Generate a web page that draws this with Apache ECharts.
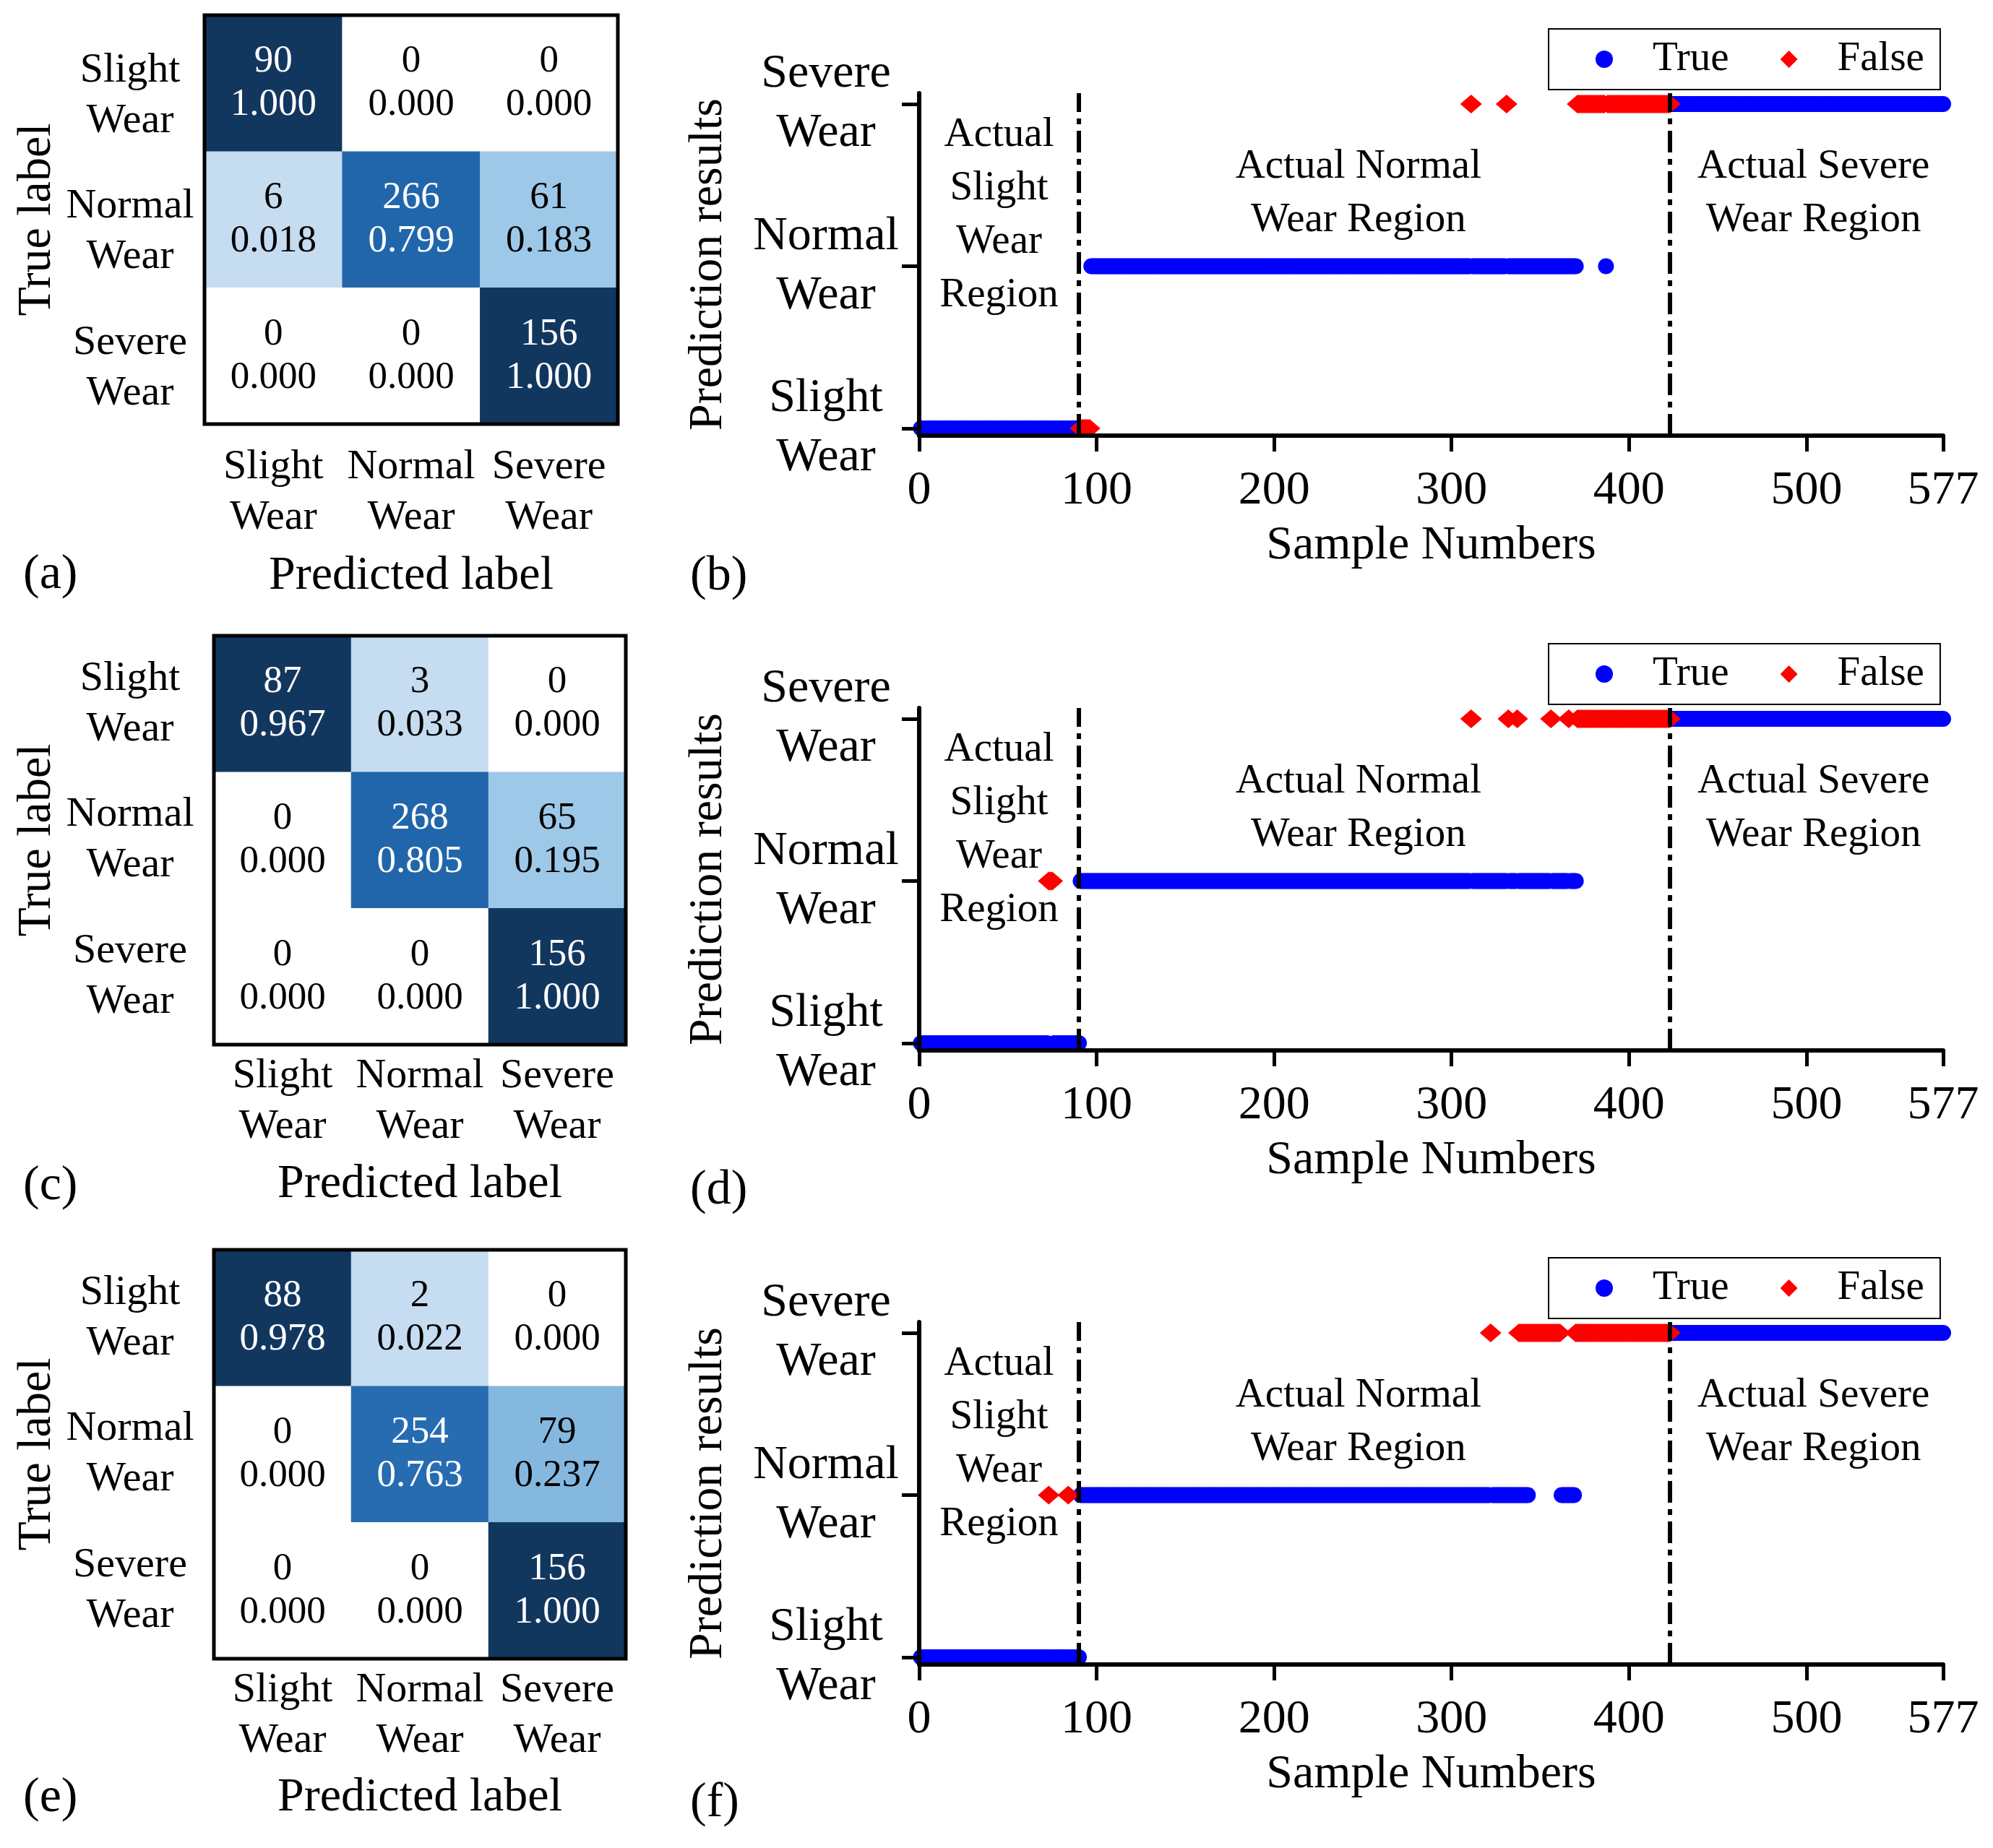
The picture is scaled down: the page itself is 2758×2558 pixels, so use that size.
<!DOCTYPE html>
<html>
<head>
<meta charset="utf-8">
<script src="https://cdn.jsdelivr.net/npm/echarts@6/dist/echarts.min.js"></script>
<style>
html,body{margin:0;padding:0;background:#fff;}
#chart{width:2758px;height:2558px;}
</style>
</head>
<body>
<div id="chart"></div>
<script>
// ---------------- DATA ----------------
const classLabels = ['Slight\nWear', 'Normal\nWear', 'Severe\nWear'];
const sampleTicks = [0, 100, 200, 300, 400, 500, 577];
const classTicks = [0, 1, 2];
const regionBounds = [90, 423];
const panelLetters = ['(a)', '(b)', '(c)', '(d)', '(e)', '(f)'];

// confusion matrices (rows = true label, cols = predicted label)
const cmCountsA = [[90, 0, 0], [6, 266, 61], [0, 0, 156]];
const cmRatiosA = [[1.000, 0.000, 0.000], [0.018, 0.799, 0.183], [0.000, 0.000, 1.000]];
const cmCountsC = [[87, 3, 0], [0, 268, 65], [0, 0, 156]];
const cmRatiosC = [[0.967, 0.033, 0.000], [0.000, 0.805, 0.195], [0.000, 0.000, 1.000]];
const cmCountsE = [[88, 2, 0], [0, 254, 79], [0, 0, 156]];
const cmRatiosE = [[0.978, 0.022, 0.000], [0.000, 0.763, 0.237], [0.000, 0.000, 1.000]];

// prediction results as runs of samples: [firstSample, lastSample, predictedClass]
const trueRunsB  = [[1, 90, 0], [97, 310, 1], [312, 330, 1], [332, 370, 1], [387, 387, 1], [424, 577, 2]];
const falseRunsB = [[91, 96, 0], [311, 311, 2], [331, 331, 2], [371, 386, 2], [388, 423, 2]];
const trueRunsD  = [[1, 72, 0], [76, 90, 0], [91, 310, 1], [312, 331, 1], [333, 336, 1], [338, 355, 1], [357, 365, 1], [367, 370, 1], [424, 577, 2]];
const falseRunsD = [[73, 75, 1], [311, 311, 2], [332, 332, 2], [337, 337, 2], [356, 356, 2], [366, 366, 2], [371, 423, 2]];
const trueRunsF  = [[1, 72, 0], [74, 83, 0], [85, 90, 0], [91, 321, 1], [323, 343, 1], [362, 369, 1], [424, 577, 2]];
const falseRunsF = [[73, 73, 1], [84, 84, 1], [322, 322, 2], [338, 361, 2], [370, 423, 2]];

// region annotation text, anchored in data coordinates [sample, class-axis value]
const regionTexts = ['Actual\nSlight\nWear\nRegion', 'Actual Normal\nWear Region', 'Actual Severe\nWear Region'];
const regionAnchors = [[45, 1.316], [247.5, 1.446], [504, 1.446]];

// ---------------- LAYOUT / STYLE ----------------
const FONT = "'Liberation Serif','Times New Roman',serif";
const cmLayout = [
  {left: 283, top: 21, width: 572, yGap: 103, nameGap: 198, spacer: 34, xMargin: 25, xNameGap: 178},
  {left: 296, top: 880, width: 570, yGap: 116, nameGap: 211, spacer: 0, xMargin: 9, xNameGap: 161},
  {left: 296, top: 1730, width: 570, yGap: 116, nameGap: 211, spacer: 0, xMargin: 9, xNameGap: 160}
];
const CM_H = 566;
const scTops = [129, 980, 1830];
const SC_LEFT = 1272, SC_W = 1417, SC_H = 474;
const titlePos = [[32, 762], [955, 764], [32, 1608], [955, 1614], [32, 2455], [955, 2462]];

function expandRuns(runs) {
  const out = [];
  for (const [a, b, c] of runs) for (let i = a; i <= b; i++) out.push([i, c]);
  return out;
}
function cmData(counts, ratios) {
  const out = [];
  for (let r = 0; r < 3; r++) for (let c = 0; c < 3; c++) out.push([c, r, ratios[r][c], counts[r][c]]);
  return out;
}

const cms = [[cmCountsA, cmRatiosA], [cmCountsC, cmRatiosC], [cmCountsE, cmRatiosE]];
const scs = [[trueRunsB, falseRunsB], [trueRunsD, falseRunsD], [trueRunsF, falseRunsF]];

const grid = [], xAxis = [], yAxis = [], series = [], legend = [], title = [];

cms.forEach((cm, k) => {
  const L = cmLayout[k];
  grid.push({left: L.left, top: L.top, width: L.width, height: CM_H, show: true, z: 10,
    borderColor: '#000', borderWidth: 5, backgroundColor: 'transparent'});
  xAxis.push({type: 'category', gridIndex: k, data: classLabels, position: 'bottom',
    axisLine: {show: false}, axisTick: {show: false}, splitLine: {show: false},
    axisLabel: {interval: 0, margin: L.xMargin, fontSize: 58, lineHeight: 70, color: '#000', fontFamily: FONT},
    name: 'Predicted label', nameLocation: 'middle', nameGap: L.xNameGap,
    nameTextStyle: {fontSize: 66, color: '#000', fontFamily: FONT}});
  yAxis.push({type: 'category', gridIndex: k, data: classLabels, inverse: true,
    axisLine: {show: false}, axisTick: {show: false}, splitLine: {show: false},
    axisLabel: {interval: 0, margin: L.yGap, align: 'center', color: '#000', fontFamily: FONT,
      formatter: v => (L.spacer ? '{s| }\n' : '') + v.split('\n').map(t => '{a|' + t + '}').join('\n'),
      rich: {a: {fontSize: 58, lineHeight: 70, color: '#000', fontFamily: FONT},
             s: {fontSize: 1, lineHeight: L.spacer || 1}}},
    name: 'True label', nameLocation: 'middle', nameGap: L.nameGap,
    nameTextStyle: {fontSize: 66, color: '#000', fontFamily: FONT}});
});

scs.forEach((sc, k) => {
  const gi = 3 + k;
  grid.push({left: SC_LEFT, top: scTops[k], width: SC_W, height: SC_H});
  xAxis.push({type: 'value', gridIndex: gi, min: 0, max: 577, z: 5,
    axisLine: {show: true, onZero: false, lineStyle: {color: '#000', width: 6}},
    axisTick: {show: true, length: 22, customValues: sampleTicks, lineStyle: {color: '#000', width: 5}},
    axisLabel: {customValues: sampleTicks, margin: 44, fontSize: 66, color: '#000', fontFamily: FONT},
    splitLine: {show: false},
    name: 'Sample Numbers', nameLocation: 'middle', nameGap: 120,
    nameTextStyle: {fontSize: 66, color: '#000', fontFamily: FONT}});
  yAxis.push({type: 'value', gridIndex: gi, min: -0.045, max: 2.067, z: 5,
    axisLine: {show: true, onZero: false, lineStyle: {color: '#000', width: 6}},
    axisTick: {show: true, length: 24, customValues: classTicks, lineStyle: {color: '#000', width: 5}},
    axisLabel: {customValues: classTicks, formatter: v => classLabels[Math.round(v)], align: 'center',
      margin: 129, fontSize: 66, lineHeight: 82, color: '#000', fontFamily: FONT},
    splitLine: {show: false},
    name: 'Prediction results', nameLocation: 'middle', nameGap: 258,
    nameTextStyle: {fontSize: 66, color: '#000', fontFamily: FONT}});
  legend.push({left: 2143, top: scTops[k] - 89, orient: 'horizontal',
    data: [{name: 'True', icon: 'circle'}, {name: 'False', icon: 'diamond'}],
    itemWidth: 24, itemHeight: 24, itemGap: 71, padding: [10, 22, 10, 65],
    borderColor: '#000', borderWidth: 2, backgroundColor: '#fff',
    itemStyle: {opacity: 1},
    textStyle: {fontSize: 57, lineHeight: 64, color: '#000', fontFamily: FONT, padding: [0, 0, 0, 50]}});
});

// heatmap series
cms.forEach((cm, k) => {
  series.push({type: 'heatmap', name: 'cm' + k, xAxisIndex: k, yAxisIndex: k,
    data: cmData(cm[0], cm[1]),
    label: {show: true,
      formatter: p => { const d = p.data; const s = d[2] > 0.5 ? 'w' : 'k'; return '{' + s + '|' + d[3] + '}\n{' + s + '|' + d[2].toFixed(3) + '}'; },
      rich: {w: {color: '#fff', fontSize: 53, lineHeight: 60, fontFamily: FONT},
             k: {color: '#000', fontSize: 53, lineHeight: 60, fontFamily: FONT}}},
    emphasis: {disabled: true}, itemStyle: {borderWidth: 0}});
});

// scatter panels
scs.forEach((sc, k) => {
  const gi = 3 + k;
  series.push({type: 'scatter', name: 'True', xAxisIndex: gi, yAxisIndex: gi, symbol: 'circle', symbolSize: 22,
    itemStyle: {color: '#0000ff', opacity: 1}, data: expandRuns(sc[0]), z: 2, emphasis: {disabled: true}});
  series.push({type: 'scatter', name: 'False', xAxisIndex: gi, yAxisIndex: gi, symbol: 'diamond', symbolSize: [30, 26],
    itemStyle: {color: '#ff0000', opacity: 1}, data: expandRuns(sc[1]), z: 3, emphasis: {disabled: true}});
  series.push({type: 'line', name: 'bounds' + k, xAxisIndex: gi, yAxisIndex: gi, data: [], z: 4,
    markLine: {silent: true, symbol: ['none', 'none'], label: {show: false},
      lineStyle: {color: '#000', width: 6, type: [30, 9, 8, 9], opacity: 1},
      data: regionBounds.map(b => ({xAxis: b}))}});
  series.push({type: 'scatter', name: 'regions' + k, xAxisIndex: gi, yAxisIndex: gi, symbolSize: 0, z: 6,
    itemStyle: {opacity: 1},
    data: regionAnchors.map((a, i) => ({value: a, name: regionTexts[i]})),
    label: {show: true, position: 'inside', formatter: p => p.name, fontSize: 57, lineHeight: 74,
      color: '#000', opacity: 1, fontFamily: FONT, align: 'center', verticalAlign: 'middle'},
    emphasis: {disabled: true}, silent: true});
});

panelLetters.forEach((t, i) => {
  title.push({text: t, left: titlePos[i][0], top: titlePos[i][1], padding: 0,
    textStyle: {fontSize: 68, fontWeight: 'normal', color: '#000', fontFamily: FONT}});
});

const option = {
  animation: false,
  backgroundColor: '#fff',
  title, grid, xAxis, yAxis, legend, series,
  visualMap: {type: 'piecewise', show: false, dimension: 2, seriesIndex: [0, 1, 2],
    pieces: [
      {lte: 0.005, color: '#ffffff'},
      {gt: 0.005, lte: 0.1, color: '#c6dcf0'},
      {gt: 0.1, lte: 0.21, color: '#9ec8e8'},
      {gt: 0.21, lte: 0.5, color: '#84b8df'},
      {gt: 0.5, lte: 0.78, color: '#276cb1'},
      {gt: 0.78, lte: 0.9, color: '#2166ab'},
      {gt: 0.9, color: '#12375f'}
    ]}
};
const chart = echarts.init(document.getElementById('chart'), null, {renderer: 'canvas'});
chart.setOption(option);
</script>
</body>
</html>
